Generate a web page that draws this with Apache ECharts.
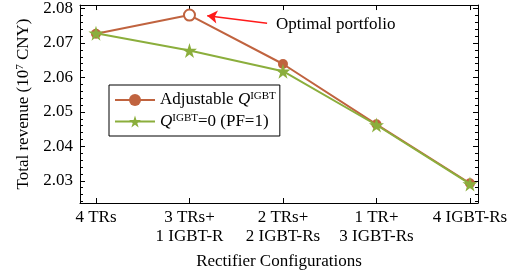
<!DOCTYPE html>
<html>
<head>
<meta charset="utf-8">
<script src="https://cdn.jsdelivr.net/npm/echarts@6/dist/echarts.min.js"></script>
<style>
  html, body { margin: 0; padding: 0; background: #fff; }
  #chart { width: 526px; height: 275px; }
</style>
</head>
<body>
<div id="chart"></div>
<script>
  // data
  var categories = ['4 TRs', '3 TRs+\n1 IGBT-R', '2 TRs+\n2 IGBT-Rs', '1 TR+\n3 IGBT-Rs', '4 IGBT-Rs'];
  var adjustable = [2.0727, 2.0781, 2.0639, 2.0464, 2.0293];
  var pfOne = [2.0728, 2.0678, 2.0618, 2.0462, 2.0291];
  var yTicks = [2.03, 2.04, 2.05, 2.06, 2.07, 2.08];
  var xTicks = [0, 1, 2, 3, 4];
  var optimalIndex = 1;

  var orange = '#C0633F';
  var green = '#8BAE3C';
  var font = 'Liberation Serif';

  // minor ticks every 0.002
  var minorTicks = [];
  for (var k = 2024; k <= 2080; k += 2) minorTicks.push(k / 1000);

  var chart = echarts.init(document.getElementById('chart'));

  var star = 'path://M50,0 L61,35 L98,35 L68,57 L79,91 L50,70 L21,91 L32,57 L2,35 L39,35 Z';

  var adjData = adjustable.map(function (v, i) {
    if (i === optimalIndex) {
      return { value: [i, v], symbol: 'emptyCircle', symbolSize: 11,
        itemStyle: { color: orange, borderWidth: 2 } };
    }
    return [i, v];
  });
  var pfData = pfOne.map(function (v, i) { return [i, v]; });

  var rich = {
    i: { fontFamily: font, fontStyle: 'italic', fontSize: 17, color: '#000' },
    sup: { fontFamily: font, fontSize: 11, color: '#000', verticalAlign: 'top', padding: [0, 0, 7, 0] },
    t: { fontFamily: font, fontSize: 17, color: '#000' }
  };

  function yAxisBase(pos, ticks, len) {
    return {
      type: 'value', position: pos, min: 2.02357, max: 2.081,
      axisLine: { show: false, onZero: false },
      axisTick: { show: true, inside: true, length: len, customValues: ticks, lineStyle: { color: '#000' } },
      axisLabel: { show: false },
      splitLine: { show: false }
    };
  }

  var rightMajor = yAxisBase('right', yTicks, 5);
  rightMajor.axisLine = { show: true, onZero: false, lineStyle: { color: '#000', width: 1 } };

  chart.setOption({
    animation: false,
    backgroundColor: '#fff',
    grid: { left: 80, right: 48, top: 4, bottom: 72 },
    legend: {
      left: 109, top: 85,
      orient: 'vertical',
      itemWidth: 40, itemHeight: 15, itemGap: 4,
      padding: [6, 4, 6, 5],
      borderColor: '#000', borderWidth: 1,
      backgroundColor: '#fff',
      textStyle: { fontFamily: font, fontSize: 17, color: '#000', rich: rich },
      formatter: function (name) {
        if (name === 'adj') return '{t|Adjustable }{i|Q}{sup|IGBT}';
        return '{i|Q}{sup|IGBT}{t|=0 (PF=1)}';
      },
      data: ['adj', 'pf']
    },
    xAxis: [{
      type: 'value', min: -0.171, max: 4.086,
      name: 'Rectifier Configurations', nameLocation: 'middle', nameGap: 50,
      nameTextStyle: { fontFamily: font, fontSize: 17, color: '#000' },
      axisLine: { show: true, onZero: false, lineStyle: { color: '#000', width: 1 } },
      axisTick: { show: true, inside: true, length: 5, customValues: xTicks, lineStyle: { color: '#000' } },
      axisLabel: {
        customValues: xTicks, margin: 5,
        fontFamily: font, fontSize: 17, color: '#000', lineHeight: 19,
        formatter: function (v) { return categories[Math.round(v)]; }
      },
      splitLine: { show: false }
    }, {
      type: 'value', position: 'top', min: -0.171, max: 4.086,
      axisLine: { show: true, onZero: false, lineStyle: { color: '#000', width: 1 } },
      axisTick: { show: true, inside: true, length: 5, customValues: xTicks, lineStyle: { color: '#000' } },
      axisLabel: { show: false },
      splitLine: { show: false }
    }],
    yAxis: [{
      type: 'value', min: 2.02357, max: 2.081,
      name: 'Total revenue (10{sup|7} CNY)', nameLocation: 'middle', nameGap: 45, nameRotate: 90,
      nameTextStyle: { fontFamily: font, fontSize: 17, color: '#000',
        rich: { sup: { fontFamily: font, fontSize: 11, color: '#000', verticalAlign: 'top', padding: [0, 0, 7, 0] } } },
      axisLine: { show: true, onZero: false, lineStyle: { color: '#000', width: 1 } },
      axisTick: { show: true, inside: true, length: 5, customValues: yTicks, lineStyle: { color: '#000' } },
      axisLabel: {
        customValues: yTicks, margin: 7,
        fontFamily: font, fontSize: 17, color: '#000',
        formatter: function (v) { return v.toFixed(2); }
      },
      splitLine: { show: false }
    },
      rightMajor,
      yAxisBase('left', minorTicks, 3),
      yAxisBase('right', minorTicks, 3)
    ],
    series: [{
      name: 'adj', type: 'line', data: adjData,
      symbol: 'circle', symbolSize: 10,
      lineStyle: { color: orange, width: 2 },
      itemStyle: { color: orange },
      z: 2,
      markLine: {
        silent: true,
        symbol: ['none', 'arrow'], symbolSize: 10,
        lineStyle: { color: '#FF1A1A', width: 1.5, type: 'solid' },
        label: {
          show: true, position: 'start', distance: 9,
          formatter: 'Optimal portfolio',
          fontFamily: font, fontSize: 17, color: '#000'
        },
        data: [[{ coord: [1.83, 2.0757] }, { coord: [1.19, 2.0779] }]]
      }
    }, {
      name: 'pf', type: 'line', data: pfData,
      symbol: star, symbolSize: 15,
      lineStyle: { color: green, width: 2 },
      itemStyle: { color: green },
      z: 3
    }]
  });
</script>
</body>
</html>
